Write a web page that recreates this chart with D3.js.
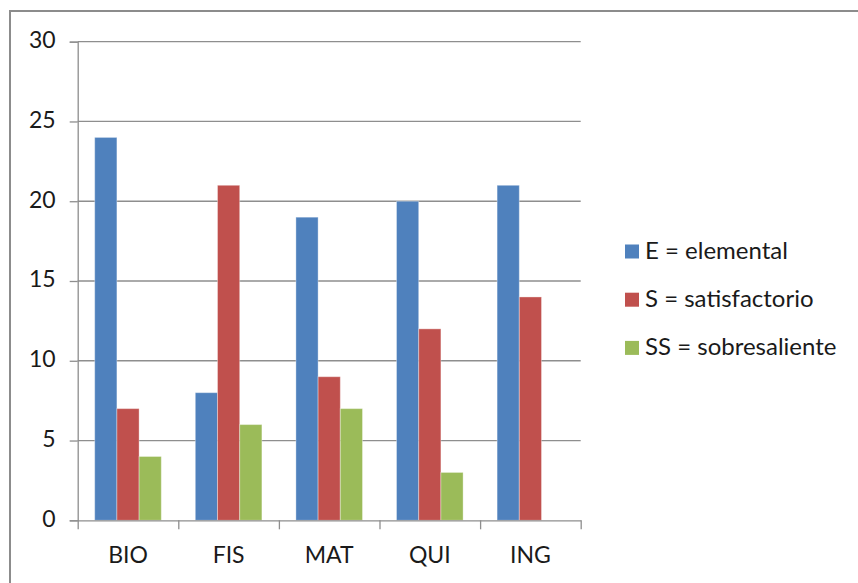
<!DOCTYPE html>
<html>
<head>
<meta charset="utf-8">
<script src="https://cdn.jsdelivr.net/npm/d3@7"></script>
<style>
  html, body { margin: 0; padding: 0; background: #fff; }
  svg { display: block; }
  text { font-family: Lato, "Open Sans", sans-serif; fill: #1a1a1a; }
</style>
</head>
<body>
<svg id="chart" width="858" height="583"></svg>
<script>
var categories = ["BIO", "FIS", "MAT", "QUI", "ING"];
var seriesNames = ["E = elemental", "S = satisfactorio", "SS = sobresaliente"];
var seriesE = [24, 8, 19, 20, 21];
var seriesS = [7, 21, 9, 12, 14];
var seriesSS = [4, 6, 7, 3, 0];
var yTicks = [0, 5, 10, 15, 20, 25, 30];
var colors = ["#4f81bd", "#c0504d", "#9bbb59"];

var svg = d3.select("#chart"),
    plot = { left: 77.7, right: 580.7, top: 41.7, bottom: 520.3 },
    allSeries = [seriesE, seriesS, seriesSS];

// chart frame
svg.append("rect")
    .attr("x", 10).attr("y", 11)
    .attr("width", 900).attr("height", 700)
    .attr("fill", "none")
    .attr("stroke", "#8c8c8c")
    .attr("stroke-width", 2);

var x0 = d3.scaleBand().domain(categories).range([plot.left, plot.right]).padding(0);
var bw = x0.bandwidth();
var x1 = d3.scaleBand().domain(d3.range(seriesNames.length)).range([bw * 0.169, bw * 0.831]).padding(0);
var y = d3.scaleLinear().domain([0, 30]).range([plot.bottom, plot.top]);

// gridlines
svg.append("g")
    .selectAll("line")
    .data(yTicks.filter(function (t) { return t > 0; }))
    .join("line")
    .attr("x1", plot.left).attr("x2", plot.right)
    .attr("y1", function (t) { return y(t); })
    .attr("y2", function (t) { return y(t); })
    .attr("stroke", "#8e8e8e")
    .attr("stroke-width", 1.3);

// bars
var groups = svg.append("g")
    .selectAll("g")
    .data(categories)
    .join("g")
    .attr("transform", function (c) { return "translate(" + x0(c) + ",0)"; });

groups.selectAll("rect")
    .data(function (c, i) {
        return allSeries.map(function (s, k) { return { k: k, v: s[i] }; });
    })
    .join("rect")
    .attr("x", function (d) { return x1(d.k); })
    .attr("width", x1.bandwidth())
    .attr("y", function (d) { return y(d.v); })
    .attr("height", function (d) { return y(0) - y(d.v); })
    .attr("fill", function (d) { return colors[d.k]; })
    .attr("stroke", function (d) { return d.v > 0 ? "rgba(255,255,255,0.35)" : "none"; })
    .attr("stroke-width", 1);

// y axis
var yAxis = svg.append("g")
    .attr("transform", "translate(" + plot.left + ",0)")
    .call(d3.axisLeft(y).tickValues(yTicks).tickSize(8).tickPadding(14));
yAxis.select(".domain").attr("stroke", "#8e8e8e").attr("stroke-width", 1.3);
yAxis.selectAll(".tick line").attr("stroke", "#8e8e8e").attr("stroke-width", 1.3);
yAxis.selectAll(".tick text")
    .attr("font-size", 23)
    .attr("font-family", "Lato, sans-serif")
    .attr("fill", "#1a1a1a")
    .attr("dy", "0.26em");

// x axis
var xAxisScale = d3.scalePoint().domain(d3.range(categories.length + 1)).range([plot.left, plot.right]);
var xAxis = svg.append("g")
    .attr("transform", "translate(0," + plot.bottom + ")")
    .call(d3.axisBottom(xAxisScale).tickSize(9).tickSizeOuter(0).tickFormat(""));
xAxis.select(".domain").attr("stroke", "#8e8e8e").attr("stroke-width", 1.3);
xAxis.selectAll(".tick line").attr("stroke", "#8e8e8e").attr("stroke-width", 1.3);

svg.append("g")
    .selectAll("text")
    .data(categories)
    .join("text")
    .attr("x", function (c) { return x0(c) + bw / 2; })
    .attr("y", 563)
    .attr("text-anchor", "middle")
    .attr("font-size", 23)
    .text(function (c) { return c; });

// legend
var legend = svg.append("g")
    .selectAll("g")
    .data(seriesNames)
    .join("g")
    .attr("transform", function (d, i) { return "translate(625," + (259 + i * 48.2) + ")"; });

legend.append("rect")
    .attr("x", 0).attr("y", -14.5)
    .attr("width", 14).attr("height", 14)
    .attr("fill", function (d, i) { return colors[i]; });

legend.append("text")
    .attr("x", 20).attr("y", 0)
    .attr("font-size", 24)
    .text(function (d) { return d; });
</script>
</body>
</html>
